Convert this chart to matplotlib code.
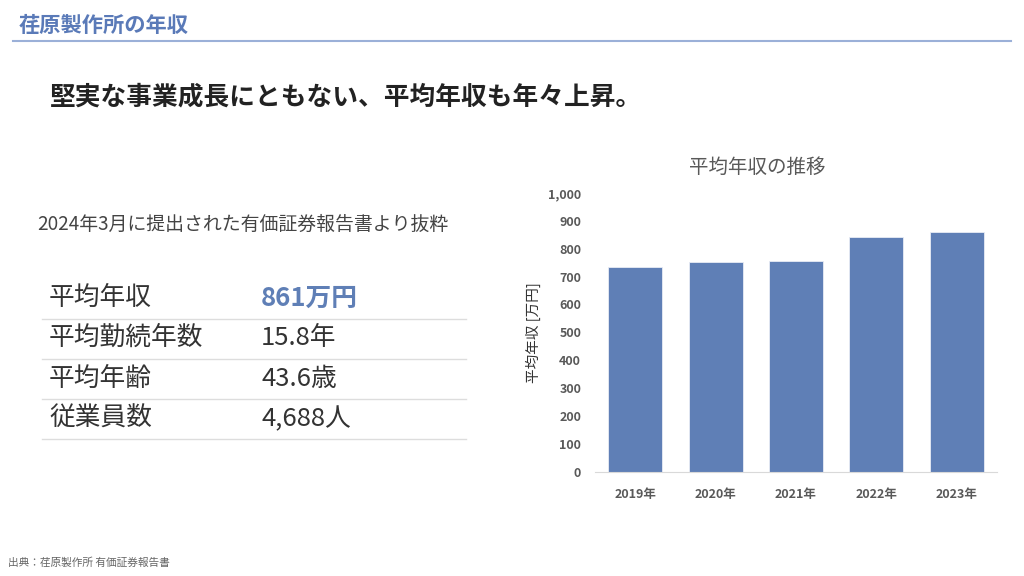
import matplotlib
matplotlib.use("Agg")
import matplotlib.pyplot as plt
from matplotlib.lines import Line2D

plt.rcParams['font.family'] = ['Noto Sans CJK JP', 'DejaVu Sans']

# Data
years = ["2019年", "2020年", "2021年", "2022年", "2023年"]
salary = [734, 752, 756, 842, 861]
yticks = [0, 100, 200, 300, 400, 500, 600, 700, 800, 900, 1000]

row_labels = ["平均年収", "平均勤続年数", "平均年齢", "従業員数"]
row_values = ["861万円", "15.8年", "43.6歳", "4,688人"]

BLUE = "#5f7fb6"
GRAY = "#595959"

fig = plt.figure(figsize=(10.24, 5.76), dpi=100)
W, H = 1024, 576

def fx(x):
    return x / W

def fy(y):
    return 1 - y / H

# Header
fig.text(fx(19), fy(25), "荏原製作所の年収", fontsize=15.3, fontweight="bold",
         color="#5a7ab8", va="center", ha="left")
fig.add_artist(Line2D([fx(13), fx(1011)], [fy(41), fy(41)], color="#9bb0d8", lw=1.5))

# Headline
fig.text(fx(50), fy(97), "堅実な事業成長にともない、平均年収も年々上昇。", fontsize=18.5,
         fontweight="bold", color="#222222", va="center", ha="left")

# Left side: table
fig.text(fx(37), fy(224), "2024年3月に提出された有価証券報告書より抜粋", fontsize=13.6,
         color="#444444", va="center", ha="left")

row_y = [298, 338, 379, 419]
line_y = [319, 359, 399, 439]
for i, (lab, val) in enumerate(zip(row_labels, row_values)):
    fig.text(fx(49), fy(row_y[i]), lab, fontsize=18.5, color="#333333", va="center", ha="left")
    if i == 0:
        fig.text(fx(261), fy(row_y[i]), val, fontsize=18.5, color=BLUE, fontweight="bold",
                 va="center", ha="left")
    else:
        fig.text(fx(261), fy(row_y[i]), val, fontsize=18.5, color="#333333", va="center", ha="left")
    fig.add_artist(Line2D([fx(42), fx(466)], [fy(line_y[i]), fy(line_y[i])],
                          color="#dddddd", lw=1))

# Right side: bar chart
ax = fig.add_axes([fx(595), fy(471.7), fx(997 - 595), (471.7 - 193) / H])
ax.bar(range(len(years)), salary, width=0.67, color=BLUE, edgecolor="#e8ecf5", linewidth=0.6)
ax.set_xlim(-0.5, len(years) - 0.5)
ax.set_ylim(0, 1000)
ax.set_yticks(yticks)
ax.set_yticklabels([f"{v:,}" for v in yticks])
ax.set_xticks(range(len(years)))
ax.set_xticklabels(years)
for s in ["top", "right", "left"]:
    ax.spines[s].set_visible(False)
ax.spines["bottom"].set_color("#d9d9d9")
ax.tick_params(axis="both", length=0, labelsize=9, labelcolor=GRAY)
ax.tick_params(axis="y", pad=10)
ax.tick_params(axis="x", pad=12)
for t in ax.get_xticklabels() + ax.get_yticklabels():
    t.set_fontweight("bold")

fig.text(fx(757), fy(167), "平均年収の推移", fontsize=14, color=GRAY, ha="center", va="center")
fig.text(fx(533), fy(333), "平均年収 [万円]", fontsize=10.5, color="#333333", rotation=90,
         ha="center", va="center")

# Footer
fig.text(fx(8), fy(563), "出典：荏原製作所 有価証券報告書", fontsize=7.7, color="#666666",
         ha="left", va="center")

fig.savefig("out.png", dpi=100)
